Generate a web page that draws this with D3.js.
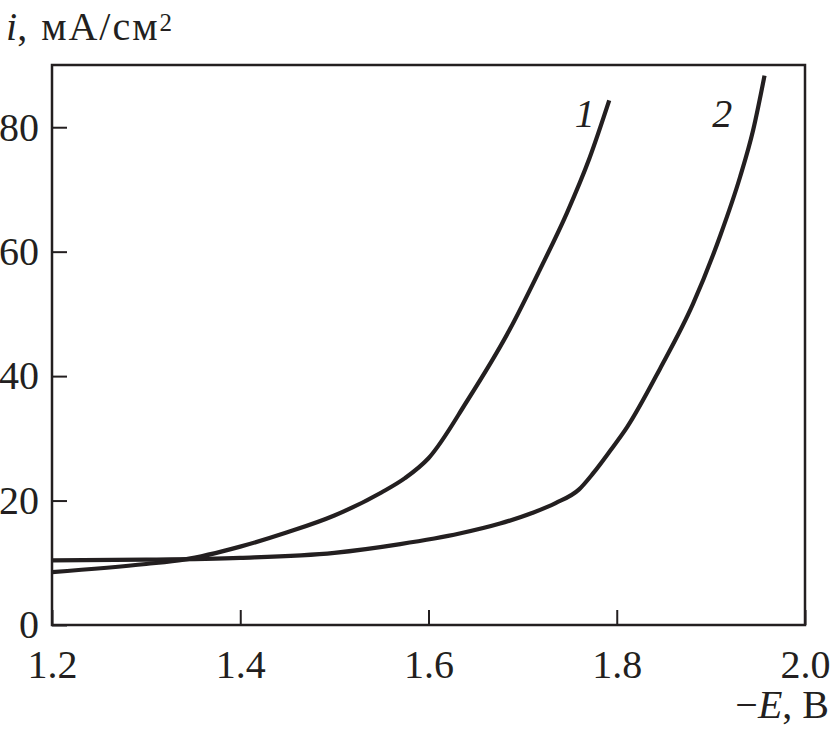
<!DOCTYPE html>
<html>
<head>
<meta charset="utf-8">
<script src="https://cdn.jsdelivr.net/npm/d3@7"></script>
<style>
  html, body { margin: 0; padding: 0; background: #fff; }
  svg { display: block; }
  text { font-family: "Liberation Serif", "Times New Roman", serif; fill: #231f20; }
</style>
</head>
<body>
<svg id="chart" width="832" height="741"></svg>
<script>
// Data
const xTicks = [1.2, 1.4, 1.6, 1.8, 2.0];
const yTicks = [0, 20, 40, 60, 80];
const curve1E = [1.20, 1.30, 1.34, 1.40, 1.45, 1.50, 1.55, 1.575, 1.60, 1.641, 1.686, 1.718, 1.747, 1.771, 1.792];
const curve1I = [8.5, 9.8, 10.5, 12.6, 14.9, 17.6, 21.3, 23.6, 26.8, 36.0, 47.4, 57.0, 66.2, 75.0, 84.3];
const curve2E = [1.20, 1.30, 1.40, 1.50, 1.57, 1.633, 1.676, 1.71, 1.735, 1.760, 1.775, 1.793, 1.811, 1.846, 1.881, 1.910, 1.931, 1.945, 1.957];
const curve2I = [10.4, 10.5, 10.8, 11.6, 13.0, 14.7, 16.3, 18.0, 19.6, 21.8, 24.4, 28.0, 31.8, 41.2, 51.6, 62.6, 72.0, 79.6, 88.3];
const curveLabels = ["1", "2"];

const svg = d3.select("#chart");
const margin = {left: 52, top: 65, right: 26, bottom: 116};
const W = 832, H = 741;
const x = d3.scaleLinear().domain([1.2, 2.0]).range([margin.left, W - margin.right - 1]);
const y = d3.scaleLinear().domain([0, 90]).range([H - margin.bottom, margin.top]);
const ink = "#231f20";

// Axes with inward ticks
const gx = svg.append("g")
  .attr("transform", `translate(0,${y(0)})`)
  .call(d3.axisBottom(x).tickValues(xTicks).tickFormat(d3.format(".1f")).tickSizeInner(-15).tickSizeOuter(0).tickPadding(25));
const gy = svg.append("g")
  .attr("transform", `translate(${x(1.2)},0)`)
  .call(d3.axisLeft(y).tickValues(yTicks).tickFormat(d3.format("d")).tickSizeInner(-15).tickSizeOuter(0).tickPadding(13));
[gx, gy].forEach(g => {
  g.select(".domain").remove();
  g.selectAll(".tick line").attr("stroke", ink).attr("stroke-width", 2);
  g.selectAll(".tick text").attr("fill", ink).style("font-size", "40px")
    .style("font-family", '"Liberation Serif", serif');
});

// Frame
svg.append("rect")
  .attr("x", x(1.2)).attr("y", y(90))
  .attr("width", x(2.0) - x(1.2)).attr("height", y(0) - y(90))
  .attr("fill", "none").attr("stroke", ink).attr("stroke-width", 2.5);

// Curves
const line = d3.line().x(d => x(d[0])).y(d => y(d[1])).curve(d3.curveMonotoneX);
const series = [
  curve1E.map((e, i) => [e, curve1I[i]]),
  curve2E.map((e, i) => [e, curve2I[i]])
];
svg.selectAll("path.curve").data(series).enter().append("path")
  .attr("class", "curve")
  .attr("d", line)
  .attr("fill", "none").attr("stroke", ink).attr("stroke-width", 4.2)
  .attr("stroke-linecap", "butt");

// Curve labels
const labelPos = [[1.766, 80.0], [1.912, 80.0]];
svg.selectAll("text.clabel").data(curveLabels).enter().append("text")
  .attr("class", "clabel")
  .attr("x", (d, i) => x(labelPos[i][0]))
  .attr("y", (d, i) => y(labelPos[i][1]))
  .attr("text-anchor", "middle")
  .style("font-size", "40px").style("font-style", "italic")
  .text(d => d);

// Y axis title
const yt = svg.append("text").attr("x", 6).attr("y", 40).style("font-size", "40px");
yt.append("tspan").style("font-style", "italic").text("i");
yt.append("tspan").style("letter-spacing", "2px").text(", мА/см");
yt.append("tspan").attr("dy", -9).style("font-size", "25px").text("2");

// X axis title
const xt = svg.append("text").attr("x", 829).attr("y", 718).attr("text-anchor", "end").style("font-size", "40px");
xt.append("tspan").text("\u2212");
xt.append("tspan").style("font-style", "italic").text("E");
xt.append("tspan").text(", В");
</script>
</body>
</html>
